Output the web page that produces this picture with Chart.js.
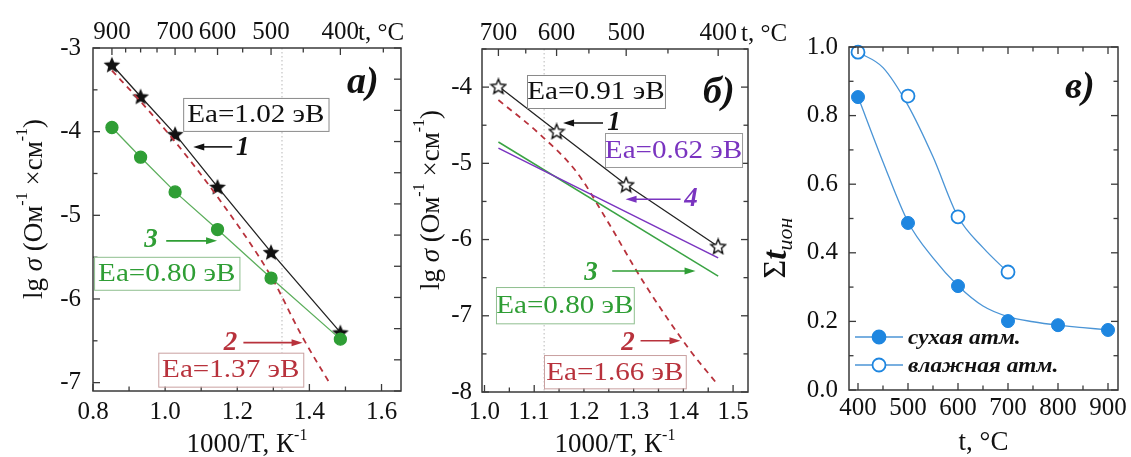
<!DOCTYPE html>
<html>
<head>
<meta charset="utf-8">
<title>Проводимость и ионные числа переноса</title>
<script src="https://cdn.jsdelivr.net/npm/chart.js@4.4.0/dist/chart.umd.min.js"></script>
<style>
  body { margin: 0; background: #fff; }
  #wrap { position: relative; width: 1131px; height: 457px; }
  #wrap canvas { position: absolute; left: 0; top: 0; }
</style>
</head>
<body>
<div id="wrap">
  <canvas id="cA" width="1131" height="457"></canvas>
  <canvas id="cB" width="1131" height="457"></canvas>
  <canvas id="cC" width="1131" height="457"></canvas>
</div>
<script>
// а) сухая атмосфера: общая (1), электронная (2) и ионная (3) проводимость
const invTA = [0.8525, 0.932, 1.0276, 1.1453, 1.2937, 1.4859];   // 900 ... 400 °C
const lgTotalA = [-3.20, -3.58, -4.03, -4.66, -5.44, -6.40];
const lgIonA = [-3.95, -4.305, -4.72, -5.17, -5.75, -6.48];
const invTElA = [0.8525, 0.932, 1.0276, 1.1453, 1.2937, 1.38, 1.458];
const lgElA = [-3.27, -3.64, -4.12, -4.78, -5.73, -6.45, -7.02];
const topPosA = [0.8525, 0.8905, 0.932, 0.9775, 1.0276, 1.0833, 1.1453, 1.215, 1.2937, 1.383, 1.4859, 1.605];
const topLabA = ['900', '', '', '', '700', '', '600', '', '500', '', '400', ''];

// б) влажная атмосфера: общая (1), электронная (2), кислородно-ионная (3), протонная (4)
const invTB = [1.028, 1.145, 1.285, 1.470];
const lgTotalB = [-3.99, -4.58, -5.28, -6.09];
const invTLinB = [1.028, 1.470];
const lgIonB = [-4.72, -6.48];
const lgProtonB = [-4.80, -6.24];
const invTElB = [1.028, 1.108, 1.186, 1.242, 1.319, 1.413, 1.470];
const lgElB = [-4.17, -4.60, -5.12, -5.70, -6.55, -7.45, -7.91];
const topPosB = [1.028, 1.083, 1.145, 1.21, 1.285, 1.369, 1.470];
const topLabB = ['700', '', '600', '', '500', '', '400'];

// в) суммарные ионные числа переноса
const tC = [400, 500, 600, 700, 800, 900];
const tIonDry = [0.854, 0.487, 0.303, 0.201, 0.189, 0.175];
const tWet = [400, 500, 600, 700];
const tIonWet = [0.985, 0.857, 0.505, 0.344];
const tFitDry = [400, 450, 500, 550, 600, 650, 700, 750, 800, 850, 900];
const fitDry = [0.855, 0.665, 0.49, 0.385, 0.304, 0.245, 0.214, 0.199, 0.189, 0.182, 0.175];
const tFitWet = [400, 450, 500, 550, 600, 650, 700];
const fitWet = [0.985, 0.94, 0.83, 0.68, 0.505, 0.415, 0.343];

const SERIF = "'Liberation Serif', 'Times New Roman', serif";
const GREEN = '#2f9e35', RED = '#b8323c', PURPLE = '#7a34c0', BLUE = '#1e86e0', FRAME = '#3a3a3a';

Chart.defaults.font.family = SERIF;
Chart.defaults.font.size = 25;
Chart.defaults.color = '#111';
Chart.defaults.animation = false;
Chart.defaults.plugins.legend.display = false;
Chart.defaults.plugins.tooltip.enabled = false;

function pts(xs, ys) { return xs.map((x, i) => ({x: x, y: ys[i]})); }
function onStep(v, every) { const k = v / every; return Math.abs(k - Math.round(k)) < 1e-6; }

// фиксированные размеры осей, чтобы три графика стояли на своих местах
function fixSize(s, size) {
  if (s.isHorizontal()) s.height = size; else s.width = size;
  s.paddingLeft = s.paddingRight = s.paddingTop = s.paddingBottom = 0;
}

function axis(pos, min, max, step, every, dec, size, pad) {
  return {
    type: 'linear', position: pos, min: min, max: max,
    grid: {display: false, drawTicks: false},
    border: {display: false},
    ticks: {
      stepSize: step, includeBounds: false, autoSkip: false, maxRotation: 0, padding: pad,
      callback: v => onStep(v, every) ? v.toFixed(dec) : ''
    },
    afterFit: s => fixSize(s, size)
  };
}

// верхняя ось температур, °C
function tempAxis(min, max, pos, labels, size) {
  return {
    type: 'linear', position: 'top', min: min, max: max,
    grid: {display: false, drawTicks: false},
    border: {display: false},
    ticks: {autoSkip: false, maxRotation: 0, padding: 1, callback: (v, i) => labels[i]},
    afterBuildTicks: s => { s.ticks = pos.map(v => ({value: v})); },
    afterFit: s => fixSize(s, size)
  };
}

function hiddenAxis(pos, min, max, step) {
  return {
    type: 'linear', position: pos, min: min, max: max,
    grid: {display: false, drawTicks: false},
    border: {display: false},
    ticks: {display: false, stepSize: step, includeBounds: false},
    afterFit: s => fixSize(s, 0)
  };
}

// звёздочки-маркеры
function starImage(size, fill, stroke) {
  const c = document.createElement('canvas');
  c.width = c.height = size;
  const g = c.getContext('2d');
  const r = size / 2 - 1.2, ri = r * 0.45, cx = size / 2, cy = size / 2 + r * 0.08;
  g.beginPath();
  for (let i = 0; i < 10; i++) {
    const a = -Math.PI / 2 + i * Math.PI / 5, rr = i % 2 ? ri : r;
    g.lineTo(cx + rr * Math.cos(a), cy + rr * Math.sin(a));
  }
  g.closePath();
  g.fillStyle = fill;
  g.fill();
  if (stroke) { g.strokeStyle = stroke; g.lineWidth = 1.4; g.stroke(); }
  return c;
}
const starA = starImage(20, '#111');
const starB = starImage(18, '#fff', '#111');

const sigmaTitle = [
  {t: 'lg ', f: `27px ${SERIF}`},
  {t: 'σ', f: `italic 27px ${SERIF}`},
  {t: ' (Ом', f: `27px ${SERIF}`},
  {t: '-1', f: `16px ${SERIF}`, dy: -12},
  {t: ' ×см', f: `27px ${SERIF}`},
  {t: '-1', f: `16px ${SERIF}`, dy: -12},
  {t: ')', f: `27px ${SERIF}`}
];
const invTTitle = [
  {t: '1000/T, К', f: `27px ${SERIF}`},
  {t: '-1', f: `16px ${SERIF}`, dy: -12}
];

// подписи, стрелки и рамки в координатах данных
const notesById = {
  cA: {
    sides: [['x', 'bottom'], ['y', 'left'], ['x2', 'top'], ['y2', 'right']],
    refX: 1.324,
    boxes: [
      {text: 'Ea=1.02 эВ', color: '#111', border: '#8a8a8a', x1: 1.05, x2: 1.453, y1: -3.597, y2: -3.991},
      {text: 'Ea=0.80 эВ', color: GREEN, border: '#8fbf8f', x1: 0.803, x2: 1.206, y1: -5.496, y2: -5.890},
      {text: 'Ea=1.37 эВ', color: RED, border: '#c9a0a0', x1: 0.981, x2: 1.383, y1: -6.642, y2: -7.048}
    ],
    arrows: [
      {color: '#111', from: [1.186, -4.182], to: [1.078, -4.182]},
      {color: GREEN, from: [1.003, -5.305], to: [1.144, -5.305]},
      {color: RED, from: [1.217, -6.522], to: [1.381, -6.522]}
    ],
    nums: [
      {text: '1', color: '#111', at: [1.215, -4.19]},
      {text: '3', color: GREEN, at: [0.961, -5.293]},
      {text: '2', color: RED, at: [1.181, -6.522]}
    ],
    letter: {text: 'а)', dx: -54, dy: 45},
    yTitle: {segs: sigmaTitle, cx: 35, cy: 209},
    xTitle: {segs: invTTitle, y: 452},
    tTitle: {dx: -43, y: 40}
  },
  cB: {
    sides: [['x', 'bottom'], ['y', 'left'], ['x2', 'top'], ['y', 'right']],
    refX: 1.12,
    boxes: [
      {text: 'Ea=0.91 эВ', color: '#111', border: '#8a8a8a', x1: 1.0855, x2: 1.363, y1: -3.841, y2: -4.274},
      {text: 'Ea=0.62 эВ', color: PURPLE, border: '#9a9a9a', x1: 1.2424, x2: 1.518, y1: -4.602, y2: -5.048},
      {text: 'Ea=0.80 эВ', color: GREEN, border: '#8fbf8f', x1: 1.0231, x2: 1.3003, y1: -6.623, y2: -7.099},
      {text: 'Ea=1.66 эВ', color: RED, border: '#c9a0a0', x1: 1.1197, x2: 1.4048, y1: -7.515, y2: -7.952}
    ],
    arrows: [
      {color: '#111', from: [1.2384, -4.471], to: [1.158, -4.471]},
      {color: PURPLE, from: [1.3944, -5.472], to: [1.2837, -5.472]},
      {color: GREEN, from: [1.2569, -6.413], to: [1.4245, -6.413]},
      {color: RED, from: [1.3139, -7.327], to: [1.3943, -7.327]}
    ],
    nums: [
      {text: '1', color: '#111', at: [1.2605, -4.471]},
      {text: '4', color: PURPLE, at: [1.4154, -5.468]},
      {text: '3', color: GREEN, at: [1.2143, -6.445]},
      {text: '2', color: RED, at: [1.2887, -7.364]}
    ],
    letter: {text: 'б)', dx: -45, dy: 54},
    yTitle: {segs: sigmaTitle, cx: 432, cy: 200},
    xTitle: {segs: invTTitle, y: 452},
    tTitle: {dx: -7, y: 41}
  },
  cC: {
    sides: [['x', 'bottom'], ['y', 'left'], ['x', 'top'], ['y', 'right']],
    letter: {text: 'в)', dx: -53, dy: 51},
    yTitle: {segs: [
      {t: 'Σ', f: `32px ${SERIF}`},
      {t: 't', f: `bold italic 34px ${SERIF}`},
      {t: 'ион', f: `italic 22px ${SERIF}`, dy: 9}
    ], cx: 777, cy: 248},
    xTitle: {segs: [{t: 't, °C', f: `27px ${SERIF}`}], y: 450},
    legend: [
      {text: 'сухая атм.', fill: BLUE, dy: -53},
      {text: 'влажная атм.', fill: '#fff', dy: -25}
    ]
  }
};

function richWidth(ctx, segs) {
  let w = 0;
  segs.forEach(s => { ctx.font = s.f; w += ctx.measureText(s.t).width; });
  return w;
}
function drawRich(ctx, segs, x, y) {
  segs.forEach(s => {
    ctx.font = s.f;
    ctx.fillText(s.t, x, y + (s.dy || 0));
    x += ctx.measureText(s.t).width;
  });
}
function stretchText(ctx, text, x, y, sx) {
  ctx.save();
  ctx.translate(x, y);
  ctx.scale(sx, 1);
  ctx.fillText(text, 0, 0);
  ctx.restore();
}
function arrow(ctx, x1, y, x2, color) {
  const dir = Math.sign(x2 - x1);
  ctx.strokeStyle = color;
  ctx.fillStyle = color;
  ctx.lineWidth = 1.6;
  ctx.beginPath();
  ctx.moveTo(x1, y);
  ctx.lineTo(x2 - dir * 8, y);
  ctx.stroke();
  ctx.beginPath();
  ctx.moveTo(x2, y);
  ctx.lineTo(x2 - dir * 11, y - 3.5);
  ctx.lineTo(x2 - dir * 11, y + 3.5);
  ctx.closePath();
  ctx.fill();
}

const notesPlugin = {
  id: 'notes',
  beforeDatasetsDraw(chart) {
    const n = notesById[chart.canvas.id];
    if (n.refX === undefined) return;
    const ctx = chart.ctx, a = chart.chartArea;
    const x = chart.scales.x.getPixelForValue(n.refX);
    ctx.save();
    ctx.strokeStyle = '#c4c4c4';
    ctx.lineWidth = 1.2;
    ctx.setLineDash([1.5, 2.5]);
    ctx.beginPath();
    ctx.moveTo(x, a.top);
    ctx.lineTo(x, a.bottom);
    ctx.stroke();
    ctx.restore();
  },
  afterDatasetsDraw(chart) {
    const n = notesById[chart.canvas.id];
    const ctx = chart.ctx, a = chart.chartArea;
    const X = v => chart.scales.x.getPixelForValue(v);
    const Y = v => chart.scales.y.getPixelForValue(v);
    ctx.save();

    // рамка и засечки внутрь
    ctx.strokeStyle = FRAME;
    ctx.lineWidth = 1.5;
    ctx.strokeRect(a.left, a.top, a.right - a.left, a.bottom - a.top);
    ctx.lineWidth = 1.3;
    n.sides.forEach(([id, edge]) => {
      const s = chart.scales[id];
      s.ticks.forEach(t => {
        const p = s.getPixelForValue(t.value);
        const len = t.label ? 7 : 4.5;
        ctx.beginPath();
        if (edge === 'bottom') { ctx.moveTo(p, a.bottom); ctx.lineTo(p, a.bottom - len); }
        if (edge === 'top') { ctx.moveTo(p, a.top); ctx.lineTo(p, a.top + len); }
        if (edge === 'left') { ctx.moveTo(a.left, p); ctx.lineTo(a.left + len, p); }
        if (edge === 'right') { ctx.moveTo(a.right, p); ctx.lineTo(a.right - len, p); }
        ctx.stroke();
      });
    });

    // рамки с энергиями активации
    ctx.textAlign = 'center';
    ctx.textBaseline = 'middle';
    (n.boxes || []).forEach(b => {
      const x1 = X(b.x1), x2 = X(b.x2), y1 = Y(b.y1), y2 = Y(b.y2);
      ctx.fillStyle = '#fff';
      ctx.fillRect(x1, y1, x2 - x1, y2 - y1);
      ctx.strokeStyle = b.border;
      ctx.lineWidth = 1;
      ctx.strokeRect(x1 + 0.5, y1 + 0.5, x2 - x1, y2 - y1);
      ctx.fillStyle = b.color;
      ctx.font = `26px ${SERIF}`;
      stretchText(ctx, b.text, (x1 + x2) / 2, (y1 + y2) / 2 + 1, 1.12);
    });
    (n.arrows || []).forEach(r => arrow(ctx, X(r.from[0]), Y(r.from[1]), X(r.to[0]), r.color));
    (n.nums || []).forEach(m => {
      ctx.fillStyle = m.color;
      ctx.font = `bold italic 27px ${SERIF}`;
      ctx.fillText(m.text, X(m.at[0]), Y(m.at[1]));
    });

    // буква панели
    ctx.textAlign = 'left';
    ctx.textBaseline = 'alphabetic';
    ctx.fillStyle = '#111';
    ctx.font = `bold italic 38px ${SERIF}`;
    ctx.fillText(n.letter.text, a.right + n.letter.dx, a.top + n.letter.dy);

    // подписи осей
    const xt = n.xTitle;
    drawRich(ctx, xt.segs, (a.left + a.right) / 2 - richWidth(ctx, xt.segs) / 2, xt.y);
    const yt = n.yTitle;
    ctx.save();
    ctx.translate(yt.cx, yt.cy);
    ctx.rotate(-Math.PI / 2);
    ctx.textBaseline = 'middle';
    drawRich(ctx, yt.segs, -richWidth(ctx, yt.segs) / 2, 0);
    ctx.restore();
    if (n.tTitle) {
      drawRich(ctx, [{t: 't, °C', f: `25px ${SERIF}`}], a.right + n.tTitle.dx, n.tTitle.y);
    }

    // легенда
    (n.legend || []).forEach(l => {
      const y = a.bottom + l.dy, x0 = a.left + 6;
      ctx.strokeStyle = '#4b95d6';
      ctx.lineWidth = 1.3;
      ctx.beginPath();
      ctx.moveTo(x0, y);
      ctx.lineTo(x0 + 48, y);
      ctx.stroke();
      ctx.beginPath();
      ctx.arc(x0 + 24, y, 6.5, 0, Math.PI * 2);
      ctx.fillStyle = l.fill;
      ctx.fill();
      ctx.strokeStyle = BLUE;
      ctx.lineWidth = 1.8;
      ctx.stroke();
      ctx.fillStyle = '#111';
      ctx.font = `bold italic 22px ${SERIF}`;
      ctx.textBaseline = 'middle';
      stretchText(ctx, l.text, x0 + 53, y + 1, 1.06);
    });
    ctx.restore();
  }
};

// ---------- а) ----------
new Chart(document.getElementById('cA'), {
  type: 'scatter',
  data: {
    datasets: [
      {data: pts(invTA, lgIonA), showLine: true, borderColor: '#5cae5c', borderWidth: 1.3,
       pointBackgroundColor: GREEN, pointBorderColor: GREEN, pointRadius: 6, clip: false, order: 0},
      {data: pts(invTElA, lgElA), showLine: true, borderColor: RED, borderWidth: 1.8, borderDash: [6, 5],
       cubicInterpolationMode: 'monotone', pointRadius: 0, order: 1},
      {data: pts(invTA, lgTotalA), showLine: true, borderColor: '#222', borderWidth: 1.3,
       pointStyle: starA, pointRadius: 9, clip: false, order: 2}
    ]
  },
  options: {
    responsive: false,
    devicePixelRatio: 1,
    layout: {padding: {left: 0, top: 0, right: 730, bottom: 0}},
    scales: {
      x: axis('bottom', 0.8, 1.654, 0.1, 0.2, 1, 66, 6),
      y: axis('left', -7.1, -3, 0.5, 1, 0, 93, 12),
      x2: tempAxis(0.8, 1.654, topPosA, topLabA, 48),
      y2: hiddenAxis('right', 0, 11, 1)
    }
  },
  plugins: [notesPlugin]
});

// ---------- б) ----------
new Chart(document.getElementById('cB'), {
  type: 'scatter',
  data: {
    datasets: [
      {data: pts(invTB, lgTotalB), showLine: true, borderColor: '#222', borderWidth: 1.3,
       pointStyle: starB, pointRadius: 9, clip: false, order: 0},
      {data: pts(invTLinB, lgProtonB), showLine: true, borderColor: PURPLE, borderWidth: 1.5, pointRadius: 0, order: 1},
      {data: pts(invTLinB, lgIonB), showLine: true, borderColor: '#3aa344', borderWidth: 1.5, pointRadius: 0, order: 2},
      {data: pts(invTElB, lgElB), showLine: true, borderColor: RED, borderWidth: 1.8, borderDash: [6, 5],
       cubicInterpolationMode: 'monotone', pointRadius: 0, order: 3}
    ]
  },
  options: {
    responsive: false,
    devicePixelRatio: 1,
    layout: {padding: {left: 390, top: 0, right: 383, bottom: 0}},
    scales: {
      x: axis('bottom', 0.995, 1.53, 0.05, 0.1, 1, 65, 5),
      y: axis('left', -8, -3.5, 0.5, 1, 0, 92, 10),
      x2: tempAxis(0.995, 1.53, topPosB, topLabB, 49)
    }
  },
  plugins: [notesPlugin]
});

// ---------- в) ----------
new Chart(document.getElementById('cC'), {
  type: 'scatter',
  data: {
    datasets: [
      {data: pts(tC, tIonDry), pointBackgroundColor: BLUE, pointBorderColor: BLUE, pointRadius: 6.5, clip: false, order: 0},
      {data: pts(tWet, tIonWet), pointBackgroundColor: '#fff', pointBorderColor: BLUE, pointBorderWidth: 1.8,
       pointRadius: 6.5, clip: false, order: 1},
      {data: pts(tFitDry, fitDry), showLine: true, borderColor: '#4b95d6', borderWidth: 1.3,
       cubicInterpolationMode: 'monotone', pointRadius: 0, order: 2},
      {data: pts(tFitWet, fitWet), showLine: true, borderColor: '#4b95d6', borderWidth: 1.3,
       cubicInterpolationMode: 'monotone', pointRadius: 0, order: 3}
    ]
  },
  options: {
    responsive: false,
    devicePixelRatio: 1,
    layout: {padding: {left: 760, top: 47, right: 13, bottom: 0}},
    scales: {
      x: axis('bottom', 382, 920, 50, 100, 0, 67, 3),
      y: axis('left', 0, 1, 0.1, 0.2, 1, 89, 11)
    }
  },
  plugins: [notesPlugin]
});
</script>
</body>
</html>
